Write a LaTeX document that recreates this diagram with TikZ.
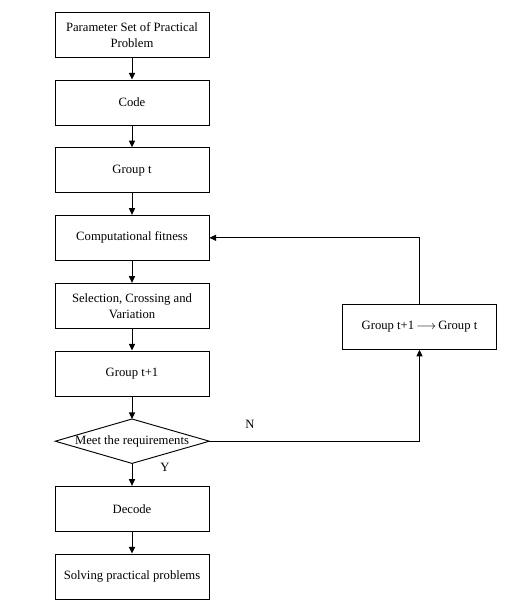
\documentclass[tikz,border=0pt]{standalone}
\usepackage{fontspec}
\setmainfont{Liberation Serif}
\usetikzlibrary{arrows.meta,calc}
\begin{document}
\begin{tikzpicture}[x=0.75pt,y=-0.75pt,
  box/.style={draw,line width=0.7pt,minimum width=115.5pt,minimum height=33.75pt,inner sep=0pt,align=center,font=\fontsize{9.5}{12}\selectfont},
  lbl/.style={font=\fontsize{9.5}{12}\selectfont,inner sep=0pt},
  arr/.style={line width=0.7pt,-{Triangle[length=5pt,width=4.6pt]}},
  ln/.style={line width=0.7pt}]
\useasboundingbox (0,0) rectangle (517,610);
\node[box] (b1) at (132,34.8) {Parameter Set of Practical\\Problem};
\node[box] (b2) at (132,102.5) {Code};
\node[box] (b3) at (132,170.2) {Group t};
\node[box] (b4) at (132,237.8) {Computational fitness};
\node[box] (b5) at (132,305.8) {Selection, Crossing and\\Variation};
\node[box] (b6) at (132,373.5) {Group t+1};
\node[lbl] (dia) at (132,441.2) {Meet the requirements};
\coordinate (dtop) at (132,419);
\coordinate (dbot) at (132,463.4);
\coordinate (dleft) at (55.3,441.2);
\coordinate (dright) at (209.3,441.2);
\draw[ln] (dtop) -- (dright) -- (dbot) -- (dleft) -- cycle;
\node[box] (b7) at (132,508.8) {Decode};
\node[box] (b8) at (132,576.5) {Solving practical problems};
\node[box] (r) at (419.5,326.8) {Group t+1\,$\longrightarrow$\,Group t};
\node[lbl] (nl) at (250,424) {N};
\node[lbl] (yl) at (165,467) {Y};
\draw[arr] (b1) -- (b2);
\draw[arr] (b2) -- (b3);
\draw[arr] (b3) -- (b4);
\draw[arr] (b4) -- (b5);
\draw[arr] (b5) -- (b6);
\draw[arr] (b6) -- (dtop);
\draw[arr] (dbot) -- (b7);
\draw[arr] (b7) -- (b8);
\draw[arr] (dright) -| (r.south);
\draw[arr] (r.north) |- (b4.east);
\end{tikzpicture}
\end{document}
